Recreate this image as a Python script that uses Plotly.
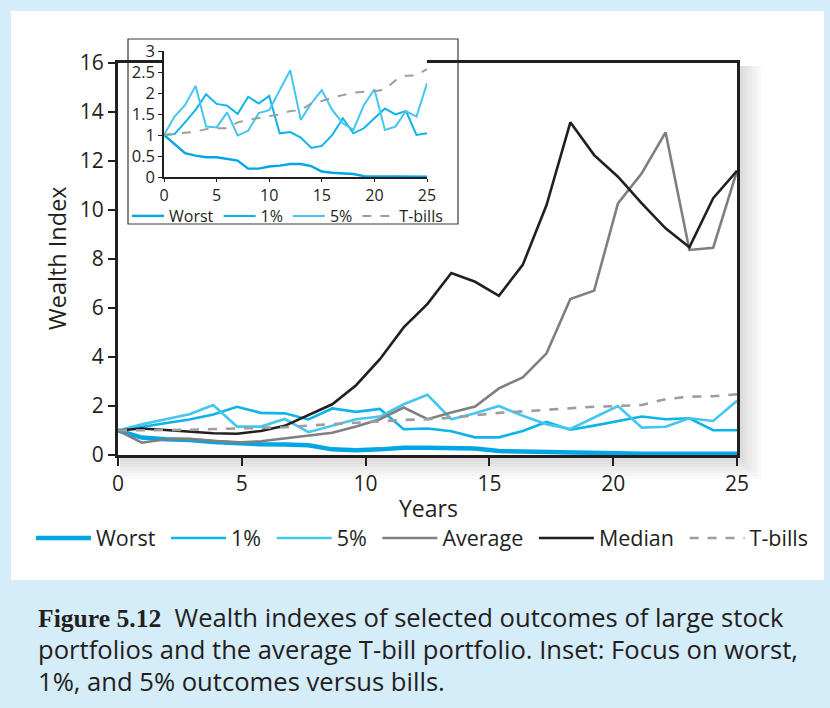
import numpy as np
import plotly.graph_objects as go

# main chart: 27 points spread over 0-25 years
years_main = np.linspace(0, 25, 27)
worst_main = [1.0, 0.71, 0.64, 0.61, 0.53, 0.48, 0.44, 0.43, 0.40, 0.23, 0.19, 0.23, 0.30, 0.30,
              0.30, 0.27, 0.16, 0.14, 0.10, 0.07, 0.06, 0.05, 0.05, 0.05, 0.05, 0.05, 0.05]
p1_main = [1.0, 1.15, 1.30, 1.45, 1.65, 1.97, 1.72, 1.70, 1.45, 1.90, 1.76, 1.88, 1.05, 1.08,
           0.97, 0.72, 0.72, 0.98, 1.35, 1.03, 1.20, 1.39, 1.57, 1.46, 1.50, 1.01, 1.01]
p5_main = [1.0, 1.25, 1.46, 1.66, 2.04, 1.16, 1.16, 1.47, 0.93, 1.19, 1.46, 1.57, 2.07, 2.46,
           1.46, 1.70, 2.00, 1.60, 1.26, 1.06, 1.53, 2.00, 1.12, 1.15, 1.50, 1.39, 2.21]
avg_main = [1.0, 0.50, 0.64, 0.66, 0.58, 0.51, 0.56, 0.68, 0.78, 0.91, 1.16, 1.46, 1.94, 1.46,
            1.73, 1.98, 2.72, 3.17, 4.15, 6.37, 6.71, 10.27, 11.5, 13.17, 8.37, 8.46, 11.6]
med_main = [1.0, 1.08, 1.02, 0.95, 0.89, 0.87, 0.98, 1.19, 1.62, 2.07, 2.85, 3.91, 5.21, 6.17,
            7.43, 7.07, 6.50, 7.76, 10.2, 13.58, 12.24, 11.36, 10.27, 9.25, 8.48, 10.48, 11.6]
tb_main = [1.0, 1.0, 1.01, 1.03, 1.06, 1.09, 1.11, 1.13, 1.20, 1.26, 1.33, 1.38, 1.43, 1.46,
           1.52, 1.62, 1.72, 1.78, 1.85, 1.93, 1.97, 2.0, 2.04, 2.28, 2.38, 2.40, 2.48]

# inset: yearly
years_in = list(range(26))
worst_in = [1.0, 0.78, 0.57, 0.51, 0.47, 0.47, 0.43, 0.39, 0.20, 0.20, 0.25, 0.27, 0.31, 0.31,
            0.26, 0.13, 0.10, 0.09, 0.07, 0.02, 0.02, 0.02, 0.02, 0.01, 0.01, 0.01]
p1_in = [1.0, 1.02, 1.30, 1.60, 1.97, 1.74, 1.70, 1.50, 1.91, 1.75, 1.93, 1.04, 1.07, 0.94,
         0.69, 0.74, 1.00, 1.40, 1.04, 1.16, 1.40, 1.63, 1.49, 1.57, 1.00, 1.04]
p5_in = [1.0, 1.44, 1.71, 2.17, 1.20, 1.18, 1.54, 0.99, 1.10, 1.52, 1.59, 2.07, 2.54, 1.36,
         1.75, 2.07, 1.59, 1.28, 1.12, 1.71, 2.09, 1.12, 1.20, 1.57, 1.44, 2.23]
tb_in = [1.0, 1.03, 1.06, 1.08, 1.14, 1.16, 1.16, 1.30, 1.36, 1.41, 1.45, 1.49, 1.57, 1.59,
         1.75, 1.81, 1.89, 1.95, 2.01, 2.03, 2.04, 2.08, 2.30, 2.41, 2.42, 2.57]

C_WORST = "#00a7e4"
C_P1 = "#0db4ea"
C_P5 = "#45c6f1"
C_AVG = "#7f7f80"
C_MED = "#231f20"
C_TB = "#9d9d9f"
INK = "#231f20"
FONT = "Open Sans"
PAD = "\u00a0"  # a bit more room between legend entries

W, H = 830, 708
def px(x):
    return x / W
def py(y):
    return 1 - y / H

fig = go.Figure()

main = [("Worst", worst_main, C_WORST, 4.5, "solid"),
        ("1%", p1_main, C_P1, 2.6, "solid"),
        ("5%", p5_main, C_P5, 2.6, "solid"),
        ("Average", avg_main, C_AVG, 2.6, "solid"),
        ("Median", med_main, C_MED, 2.6, "solid"),
        ("T-bills", tb_main, C_TB, 2.6, "dash")]
for name, vals, col, w, dash in main:
    label = name if name == "T-bills" else name + PAD
    fig.add_trace(go.Scatter(x=years_main, y=vals, name=label, mode="lines",
                             line=dict(color=col, width=w, dash=dash),
                             xaxis="x", yaxis="y", legend="legend"))

inset = [("Worst", worst_in, C_WORST, 2.4, "solid"),
         ("1%", p1_in, C_P1, 2.0, "solid"),
         ("5%", p5_in, C_P5, 2.0, "solid"),
         ("T-bills", tb_in, C_TB, 2.0, "dash")]
for name, vals, col, w, dash in inset:
    fig.add_trace(go.Scatter(x=years_in, y=vals, name=name, mode="lines",
                             line=dict(color=col, width=w, dash=dash),
                             xaxis="x2", yaxis="y2", legend="legend2"))

axis_common = dict(showgrid=False, zeroline=False, linecolor=INK, ticks="outside",
                   tickcolor=INK, fixedrange=True)

fig.update_layout(
    width=W, height=H,
    margin=dict(l=0, r=0, t=0, b=0, autoexpand=False),
    paper_bgcolor="#d5ecf9",
    plot_bgcolor="white",
    font=dict(family=FONT, color=INK, size=21),
    xaxis=dict(domain=[px(118), px(737)], range=[0, 25], tickvals=[0, 5, 10, 15, 20, 25],
               linewidth=3, tickwidth=2, ticklen=8, mirror=True, anchor="y",
               tickfont=dict(size=21), **axis_common),
    yaxis=dict(domain=[py(455), py(63)], range=[0, 16], dtick=2,
               linewidth=3, tickwidth=2, ticklen=7, mirror=True, anchor="x",
               tickfont=dict(size=21), **axis_common),
    xaxis2=dict(domain=[px(164), px(427)], range=[0, 25], tickvals=[0, 5, 10, 15, 20, 25],
                linewidth=1.5, tickwidth=1.2, ticklen=3, anchor="y2",
                tickfont=dict(size=16), **axis_common),
    yaxis2=dict(domain=[py(177), py(51)], range=[0, 3], dtick=0.5,
                linewidth=1.5, tickwidth=1.2, ticklen=4, anchor="x2",
                tickfont=dict(size=16.5), **axis_common),
    legend=dict(orientation="h", x=px(31), xanchor="left", y=py(538), yanchor="middle",
                font=dict(size=21.5), bgcolor="rgba(0,0,0,0)", itemwidth=55),
    legend2=dict(orientation="h", x=px(127), xanchor="left", y=py(216), yanchor="middle",
                 font=dict(size=16), bgcolor="rgba(0,0,0,0)", itemwidth=32),
    showlegend=True,
)

# white panel, soft shadow behind the plot frame, inset frame
fig.add_shape(type="rect", xref="paper", yref="paper", x0=px(11), x1=px(824), y0=py(580), y1=py(11),
              fillcolor="white", line=dict(width=0), layer="below")
for i in range(8):
    fig.add_shape(type="rect", xref="paper", yref="paper", x0=px(120), x1=px(740 + 3 * i),
                  y0=py(458 + 3 * i), y1=py(66), fillcolor="rgba(0,0,0,0.018)",
                  line=dict(width=0), layer="below")
fig.add_shape(type="rect", xref="paper", yref="paper", x0=px(118), x1=px(737), y0=py(455), y1=py(63),
              fillcolor="white", line=dict(width=0), layer="below")
fig.add_shape(type="rect", xref="paper", yref="paper", x0=px(128), x1=px(458), y0=py(224), y1=py(39),
              fillcolor="white", line=dict(color="#3a3a3a", width=1.2), layer="below")

fig.add_annotation(text="Wealth Index", xref="paper", yref="paper", x=px(57), y=py(258),
                   xanchor="center", yanchor="middle",
                   textangle=-90, showarrow=False, font=dict(size=23.5))
fig.add_annotation(text="Years", xref="paper", yref="paper", x=px(428), y=py(508),
                   xanchor="center", yanchor="middle", showarrow=False, font=dict(size=23))

caption = ["<b><span style='font-family:\"Liberation Serif\"'>Figure 5.12</span></b>  Wealth indexes of selected outcomes of large stock",
           "portfolios and the average T-bill portfolio. Inset: Focus on worst,",
           "1%, and 5% outcomes versus bills."]
for i, line in enumerate(caption):
    fig.add_annotation(text=line, xref="paper", yref="paper", x=px(36), xanchor="left",
                       y=py(617 + 32 * i), yanchor="middle", showarrow=False,
                       font=dict(size=25.6, color=INK))

# page body margin would push the figure off the window
fig.write_html("out.html", config={"displayModeBar": False},
               post_script="document.body.style.margin='0px';")
